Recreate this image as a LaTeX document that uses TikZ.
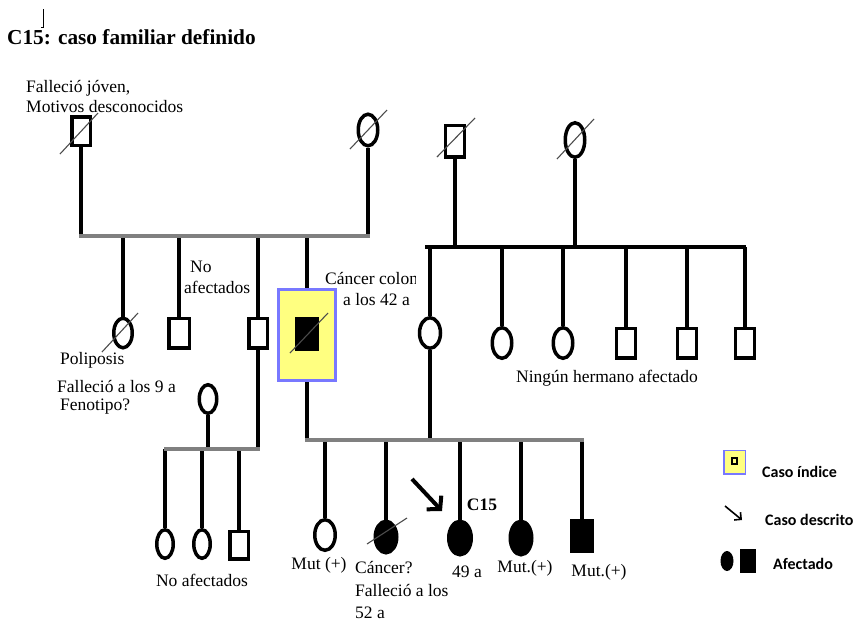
\documentclass[tikz,border=0pt]{standalone}
\usepackage{fontspec}
\setmainfont{Liberation Serif}
\newfontfamily\legfont{Carlito}
\usetikzlibrary{shapes.geometric,arrows.meta}
\pgfdeclarelayer{background}
\pgfsetlayers{background,main}
\definecolor{sibgray}{RGB}{128,128,128}
\definecolor{idxyellow}{RGB}{255,255,128}
\definecolor{idxblue}{RGB}{120,120,255}
\newcommand\deadmark[3]{\draw[dead] ([shift={#2}]#1.center) -- ([shift={#3}]#1.center);}
\begin{document}
\begin{tikzpicture}[x=1pt,y=-1pt,
  sym/.style={draw=black, line width=3.5pt, inner sep=0pt, fill=white},
  male/.style={sym, rectangle, minimum width=19pt, minimum height=29.5pt},
  female/.style={sym, ellipse, minimum width=19.5pt, minimum height=30.5pt},
  aff/.style={fill=black},
  kin/.style={line width=4pt, draw=black},
  sib/.style={line width=4pt, draw=sibgray, line cap=rect},
  dead/.style={line width=1.1pt, draw=black!70},
  idxbox/.style={draw=idxblue, line width=3pt, fill=idxyellow, inner sep=0pt, minimum width=57pt, minimum height=91pt},
  lbl/.style={font=\fontsize{17.5}{20}\selectfont, inner sep=0pt},
  leg/.style={font=\legfont\bfseries\fontsize{16}{18}\selectfont, inner sep=0pt, anchor=west}]
\useasboundingbox (0,0) rectangle (862,622);

% stray cursor mark
\coordinate (m1) at (43,9); \coordinate (m2) at (43,27); \coordinate (m3) at (40.5,27);
\draw[line width=0.8pt] (m1) -- (m2) -- (m3);

% title
\node[anchor=west, font=\bfseries\fontsize{21.3}{24}\selectfont, inner sep=0pt] (title) at (7,37) {C15: caso familiar definido};

% generation I
\node[male, minimum width=18.5pt, minimum height=28.5pt] (A1) at (81,131) {};
\node[female, minimum height=31.5pt] (A2) at (368,130) {};
\node[male, minimum height=31.5pt] (C1) at (455,141) {};
\node[female, minimum height=34.5pt] (C2) at (575,140) {};

% generation II
\node[female, minimum width=18.5pt, minimum height=29.5pt] (B1) at (123,333) {};
\node[male, minimum width=20.5pt] (B2) at (179,333) {};
\node[male, minimum width=18.5pt] (B3) at (258,333) {};
\node[idxbox] (IDX) at (307,335) {};
\node[male, aff, minimum width=20.5pt, minimum height=30.5pt] (B4) at (307,334) {};
\node[female, minimum width=21pt] (S) at (430,333) {};
\node[female] (D1) at (502,343) {};
\node[female] (D2) at (563,343) {};
\node[male] (D3) at (626,343) {};
\node[male] (D4) at (687,343) {};
\node[male] (D5) at (745,343) {};
\node[female, minimum width=17.5pt, minimum height=28.5pt] (E0) at (208,399) {};

% generation III
\node[female, minimum width=16.5pt, minimum height=28.5pt] (F1) at (165,544) {};
\node[female, minimum width=16.5pt, minimum height=28.5pt] (F2) at (202,544) {};
\node[male, minimum width=18.5pt, minimum height=27.5pt] (F3) at (239,545) {};
\node[female, minimum width=20.5pt, minimum height=30.5pt] (G1) at (325,535) {};
\node[female, aff, minimum width=21.5pt, minimum height=31.5pt] (G2) at (386,537) {};
\node[female, aff, minimum width=22.5pt, minimum height=33.5pt] (G3) at (460,538) {};
\node[female, aff, minimum width=21.5pt, minimum height=33.5pt] (G4) at (521,538) {};
\node[male, aff, minimum width=20.5pt, minimum height=30.5pt] (G5) at (582,536) {};

% deceased marks
\deadmark{A1}{(-21,23)}{(17,-18)}
\deadmark{A2}{(-18,19)}{(19,-20)}
\deadmark{C1}{(-18,16)}{(20,-23)}
\deadmark{C2}{(-18,19)}{(19,-21)}
\deadmark{B1}{(-21,19)}{(15,-20)}
\deadmark{B4}{(-17,19)}{(21,-21)}
\deadmark{G2}{(-19,7)}{(21,-19)}

% sibship line anchors
\coordinate (hA1) at (81,236);  \coordinate (hA2) at (368,236);
\coordinate (hC1) at (427,247); \coordinate (hC2) at (744,247);
\coordinate (hB1) at (166,449); \coordinate (hB2) at (258,449);
\coordinate (hD1) at (307,440); \coordinate (hD2) at (582,440);

\begin{pgfonlayer}{background}
  % couple / parent lines
  \draw[kin] (A1.south) -- (A1 |- hA1);
  \draw[kin] (A2.south) -- (A2 |- hA1);
  \draw[kin] (C1.south) -- (C1 |- hC1);
  \draw[kin] (C2.south) -- (C2 |- hC1);
  \draw[kin] (B3.south) -- (B3 |- hB1);
  \draw[kin] (E0.south) -- (E0 |- hB1);
  \draw[kin] (B4.south) -- (B4 |- hD1);
  \draw[kin] (S.south) -- (S |- hD1);
  % child drops
  \draw[kin] (B1 |- hA1) -- (B1.north);
  \draw[kin] (B2 |- hA1) -- (B2.north);
  \draw[kin] (B3 |- hA1) -- (B3.north);
  \draw[kin] (B4 |- hA1) -- (B4.north);
  \draw[kin] (S |- hC1) -- (S.north);
  \draw[kin] (D1 |- hC1) -- (D1.north);
  \draw[kin] (D2 |- hC1) -- (D2.north);
  \draw[kin] (D3 |- hC1) -- (D3.north);
  \draw[kin] (D4 |- hC1) -- (D4.north);
  \draw[kin] (D5 |- hC1) -- (D5.north);
  \draw[kin] (F1 |- hB1) -- (F1.north);
  \draw[kin] (F2 |- hB1) -- (F2.north);
  \draw[kin] (F3 |- hB1) -- (F3.north);
  \draw[kin] (G1 |- hD1) -- (G1.north);
  \draw[kin] (G2 |- hD1) -- (G2.north);
  \draw[kin] (G3 |- hD1) -- (G3.north);
  \draw[kin] (G4 |- hD1) -- (G4.north);
  \draw[kin] (G5 |- hD1) -- (G5.north);
  % sibship lines
  \draw[sib] (hA1) -- (hA2);
  \draw[kin, line cap=rect] (hC1) -- (hC2);
  \draw[sib] (hB1) -- (hB2);
  \draw[sib] (hD1) -- (hD2);
\end{pgfonlayer}

% proband arrow
\coordinate (Ar1) at (412,479); \coordinate (Ar2) at (442,511);
\draw[line width=4pt, -{Straight Barb[length=9pt,width=20pt]}] (Ar1) -- (Ar2);

% labels
\node[lbl, anchor=west] (t1) at (26,88) {Falleció jóven,};
\node[lbl, anchor=west] (t2) at (26,107) {Motivos desconocidos};
\node[lbl, anchor=west] (t3) at (190,267) {No};
\begin{scope}
  \clip (150,250) rectangle (249,310);
  \node[lbl, anchor=west] (t4) at (184,287) {afectados};
\end{scope}
\begin{scope}
  \clip (300,260) rectangle (415,295);
  \node[lbl, anchor=west] (t5) at (325,278) {Cáncer colon};
\end{scope}
\node[lbl, anchor=west] (t6) at (343,300) {a los 42 a};
\node[lbl, anchor=west] (t7) at (60,360) {Poliposis};
\node[lbl, anchor=west] (t8) at (57,386) {Falleció a los 9 a};
\node[lbl, anchor=west] (t9) at (60,407) {Fenotipo?};
\node[lbl] (t10) at (607,378) {Ningún hermano afectado};
\node[lbl] (t11) at (202,580) {No afectados};
\node[lbl] (t12) at (319,565) {Mut (+)};
\node[lbl, anchor=west] (t13) at (355,568) {Cáncer?};
\node[lbl, anchor=west] (t14) at (355,590) {Falleció a los};
\node[lbl, anchor=west] (t15) at (355,613) {52 a};
\node[lbl, font=\bfseries\fontsize{17.5}{20}\selectfont] (t16) at (482,505) {C15};
\node[lbl] (t17) at (467,572) {49 a};
\node[lbl] (t18) at (525,568) {Mut.(+)};
\node[lbl] (t19) at (599,572) {Mut.(+)};

% legend
\node[draw=idxblue, line width=1.5pt, fill=idxyellow, inner sep=0pt, minimum width=21.5pt, minimum height=23.5pt] (L1) at (734.5,462) {};
\node[draw=black, line width=1.8pt, fill=idxyellow, inner sep=0pt, minimum width=5pt, minimum height=6pt] (L1i) at (734.5,461) {};
\node[leg] (L1t) at (762,472) {Caso índice};
\coordinate (La1) at (725,506); \coordinate (La2) at (742,520);
\draw[line width=1.6pt, -{Straight Barb[length=5pt,width=10pt]}] (La1) -- (La2);
\node[leg] (L2t) at (765,520) {Caso descrito};
\node[ellipse, fill=black, inner sep=0pt, minimum width=13pt, minimum height=20pt] (L3a) at (727,561) {};
\node[rectangle, fill=black, inner sep=0pt, minimum width=16pt, minimum height=24pt] (L3b) at (748,561) {};
\node[leg] (L3t) at (773,564) {Afectado};
\end{tikzpicture}
\end{document}
